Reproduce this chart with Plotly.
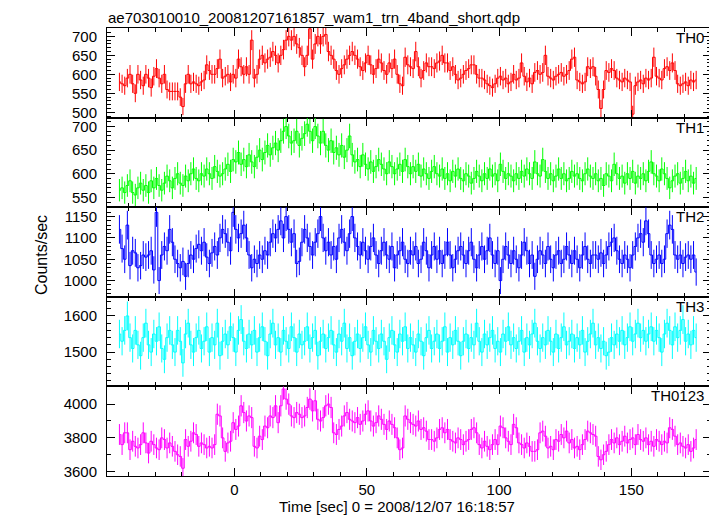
import numpy as np
import plotly.graph_objects as go

# ---- data: count rates (counts/sec) in 1-s bins, first bin centred at -43.5 s ----
TIME_START = -43.5
BIN_SEC = 1.0

TH0 = [
    580, 575, 570, 590, 600, 575, 550, 600, 585, 570,
    600, 590, 565, 595, 615, 590, 575, 600, 560, 555,
    555, 555, 555, 540, 515, 575, 600, 575, 580, 575,
    570, 580, 585, 625, 610, 600, 600, 615, 640, 590,
    595, 600, 580, 600, 590, 640, 620, 600, 620, 600,
    690, 590, 600, 640, 650, 630, 640, 645, 660, 650,
    630, 650, 665, 690, 700, 690, 700, 680, 670, 650,
    620, 650, 720, 640, 680, 700, 680, 700, 705, 660,
    650, 640, 610, 600, 615, 625, 640, 650, 660, 650,
    640, 620, 610, 630, 650, 625, 600, 615, 640, 630,
    610, 600, 630, 615, 640, 600, 575, 570, 645, 625,
    620, 615, 660, 620, 590, 610, 630, 620, 620, 615,
    630, 635, 650, 630, 630, 610, 620, 600, 585, 590,
    600, 610, 615, 625, 625, 600, 590, 590, 585, 575,
    570, 565, 575, 590, 595, 585, 590, 575, 580, 600,
    585, 590, 630, 595, 580, 590, 575, 605, 610, 600,
    605, 650, 595, 590, 585, 595, 600, 605, 595, 600,
    610, 640, 645, 585, 580, 575, 580, 620, 615, 620,
    595, 560, 510, 560, 610, 605, 615, 610, 590, 585,
    580, 590, 585, 580, 495, 570, 580, 585, 575, 590,
    585, 590, 645, 595, 590, 585, 615, 620, 610, 630,
    610, 575, 570, 575, 580, 570, 585, 580, 585,
]

TH1 = [
    565, 570, 560, 575, 585, 560, 555, 570, 580, 565,
    575, 560, 585, 570, 590, 575, 565, 580, 595, 585,
    570, 590, 600, 580, 575, 595, 585, 600, 610, 590,
    585, 600, 595, 610, 600, 590, 615, 605, 595, 600,
    610, 620, 605, 630, 625, 645, 620, 630, 615, 640,
    625, 615, 635, 650, 630, 645, 660, 640, 655, 665,
    650, 670, 690, 700, 680, 665, 670, 690, 660, 675,
    685, 705, 690, 670, 700, 680, 665, 690, 660, 650,
    670, 645, 655, 640, 660, 635, 650, 680, 640, 625,
    630, 615, 640, 620, 610, 625, 605, 615, 630, 620,
    610, 600, 625, 615, 600, 610, 620, 605, 630, 615,
    600, 615, 605, 620, 595, 610, 600, 590, 605, 615,
    600, 595, 610, 590, 600, 585, 605, 595, 610, 590,
    585, 600, 595, 580, 590, 605, 595, 585, 600, 590,
    610, 595, 600, 585, 620, 605, 590, 600, 595, 585,
    600, 590, 605, 595, 610, 600, 590, 625, 600, 595,
    630, 605, 590, 600, 585, 595, 610, 590, 600, 585,
    590, 605, 595, 600, 590, 585, 600, 610, 595, 590,
    600, 585, 590, 575, 600, 595, 585, 620, 600, 590,
    595, 580, 600, 590, 605, 580, 595, 590, 600, 585,
    605, 625, 600, 595, 585, 610, 600, 590, 570, 585,
    595, 600, 580, 590, 605, 585, 595, 580, 590,
]

TH2 = [
    1120, 1075, 1050, 1130, 1035, 1070, 1065, 1030, 1035, 1060,
    1055, 1060, 1070, 1025, 1160, 1000, 1060, 1080, 1070, 1120,
    1090, 1050, 1040, 1030, 1045, 1010, 1040, 1060, 1050, 1075,
    1085, 1070, 1090, 1055, 1040, 1065, 1080, 1060, 1100, 1120,
    1110, 1090, 1070, 1160, 1120, 1100, 1110, 1130, 1100, 1060,
    1030, 1050, 1040, 1060, 1050, 1070, 1060, 1090, 1110, 1100,
    1120, 1140, 1100, 1150, 1120, 1090, 1110, 1040, 1045, 1090,
    1120, 1100, 1080, 1060, 1090, 1110, 1150, 1100, 1070, 1090,
    1060, 1080, 1050, 1100, 1120, 1090, 1070, 1110, 1150, 1100,
    1080, 1060, 1090, 1070, 1050, 1080, 1100, 1060, 1040, 1070,
    1090, 1060, 1050, 1080, 1030, 1060, 1070, 1090, 1050, 1040,
    1070, 1060, 1080, 1040, 1050, 1090, 1070, 1030, 1060, 1080,
    1050, 1070, 1040, 1060, 1090, 1060, 1030, 1050, 1070, 1080,
    1060, 1040, 1070, 1090, 1050, 1030, 1060, 1080, 1050, 1070,
    1100, 1060, 1040, 1070, 1000, 1050, 1080, 1060, 1040, 1070,
    1050, 1030, 1060, 1090, 1070, 1040, 1060, 1010, 1050, 1070,
    1060, 1040, 1080, 1050, 1030, 1060, 1070, 1040, 1050, 1080,
    1060, 1040, 1070, 1050, 1030, 1060, 1080, 1050, 1040, 1060,
    1060, 1050, 1065, 1040, 1060, 1080, 1090, 1100, 1070, 1050,
    1040, 1060, 1050, 1030, 1060, 1080, 1100, 1110, 1090, 1140,
    1110, 1060, 1040, 1050, 1060, 1040, 1050, 1110, 1130, 1120,
    1060, 1050, 1060, 1040, 1055, 1060, 1050, 1060, 1020,
]

TH3 = [
    1550, 1530, 1560, 1600, 1540, 1510, 1560, 1520, 1490, 1540,
    1580, 1520, 1500, 1550, 1530, 1570, 1510, 1480, 1540, 1560,
    1520, 1500, 1560, 1530, 1470, 1550, 1580, 1520, 1500, 1540,
    1560, 1510, 1530, 1570, 1500, 1540, 1520, 1580, 1490, 1530,
    1550, 1520, 1570, 1540, 1500, 1560, 1590, 1530, 1510, 1550,
    1520, 1560, 1500, 1540, 1570, 1530, 1490, 1550, 1580, 1520,
    1540, 1500, 1560, 1530, 1510, 1570, 1540, 1500, 1550, 1520,
    1530, 1570, 1510, 1540, 1560, 1490, 1530, 1550, 1510, 1540,
    1560, 1520, 1500, 1550, 1530, 1580, 1510, 1540, 1490, 1530,
    1550, 1510, 1540, 1570, 1520, 1500, 1560, 1530, 1510, 1550,
    1530, 1480, 1540, 1560, 1520, 1500, 1550, 1530, 1570, 1510,
    1540, 1520, 1500, 1550, 1530, 1490, 1540, 1560, 1510, 1530,
    1550, 1510, 1530, 1570, 1500, 1540, 1520, 1560, 1530, 1490,
    1530, 1550, 1510, 1540, 1520, 1580, 1530, 1500, 1550, 1520,
    1540, 1560, 1510, 1530, 1500, 1550, 1530, 1570, 1520, 1540,
    1510, 1530, 1560, 1500, 1540, 1520, 1550, 1580, 1530, 1510,
    1540, 1520, 1560, 1530, 1500, 1550, 1510, 1540, 1570, 1520,
    1530, 1550, 1510, 1540, 1520, 1560, 1500, 1530, 1550, 1580,
    1520, 1540, 1510, 1530, 1490, 1500, 1540, 1520, 1550, 1530,
    1560, 1520, 1540, 1570, 1530, 1550, 1580, 1540, 1560, 1530,
    1550, 1570, 1530, 1560, 1540, 1500, 1550, 1580, 1560, 1520,
    1570, 1540, 1560, 1590, 1530, 1550, 1520, 1560, 1540,
]

TH0123 = [
    3820, 3760, 3830, 3830, 3730, 3780, 3750, 3740, 3760, 3830,
    3770, 3710, 3780, 3760, 3740, 3730, 3800, 3790, 3740, 3770,
    3750, 3720, 3700, 3690, 3620, 3790, 3750, 3780, 3830, 3820,
    3750, 3770, 3760, 3740, 3750, 3740, 3760, 3940, 3930, 3800,
    3720, 3770, 3780, 3890, 3850, 3870, 3990, 3950, 3900, 3930,
    3920, 3750, 3740, 3810, 3790, 3870, 3860, 3930, 3920, 3990,
    3890, 3990, 4090, 4030, 4000, 3930, 3920, 3950, 3940, 3920,
    3930, 3980, 4030, 3960, 4020, 3910, 3900, 3920, 3990, 4000,
    3980, 3830, 3820, 3850, 3870, 3930, 3950, 3910, 3900, 3890,
    3920, 3880, 3900, 3940, 3960, 3900, 3870, 3890, 3930, 3910,
    3880, 3850, 3900, 3880, 3860, 3800, 3730, 3740, 3930, 3910,
    3890, 3880, 3870, 3900, 3850, 3860, 3840, 3790, 3790, 3780,
    3800, 3850, 3860, 3830, 3850, 3790, 3780, 3770, 3800, 3790,
    3760, 3780, 3790, 3850, 3860, 3830, 3760, 3740, 3780, 3750,
    3730, 3760, 3790, 3760, 3870, 3860, 3800, 3780, 3760, 3880,
    3860, 3770, 3760, 3740, 3770, 3750, 3720, 3720, 3730, 3830,
    3840, 3810, 3740, 3750, 3730, 3790, 3780, 3820, 3800, 3840,
    3770, 3790, 3740, 3750, 3730, 3760, 3790, 3840, 3830, 3820,
    3810, 3690, 3670, 3700, 3720, 3760, 3790, 3770, 3800, 3760,
    3780, 3810, 3770, 3790, 3800, 3760, 3820, 3790, 3780, 3800,
    3760, 3780, 3750, 3790, 3780, 3760, 3780, 3770, 3860, 3850,
    3810, 3760, 3770, 3750, 3740, 3760, 3720, 3740, 3790,
]

BAND_NAMES = ["TH0", "TH1", "TH2", "TH3", "TH0123"]
BAND_RATES = [TH0, TH1, TH2, TH3, TH0123]

TITLE = "ae703010010_20081207161857_wam1_trn_4band_short.qdp"
X_TITLE = "Time [sec] 0 = 2008/12/07 16:18:57"
Y_TITLE = "Counts/sec"

# ---- style ----
COLORS = ["#ff0000", "#00ff00", "#0000ff", "#00ffff", "#ff00ff"]
Y_RANGES = [[486, 722], [529, 719], [962, 1172], [1405, 1653], [3574, 4105]]
Y_DTICK = [50, 50, 50, 100, 200]
Y_MINOR = [10, 10, 10, 20, 100]
X_RANGE = [-48.2, 180.1]
FONT = "Liberation Sans, Arial, sans-serif"

# page body has an 8px margin: figure is placed at (8, 8) in the window
OFF = 8
W, H = 709, 508
ML, MR, MT, MB = 99, 6, 20, 40
PW, PH = W - ML - MR, H - MT - MB


def px_x(px):  # window px -> paper
    return (px - OFF - ML) / PW


def px_y(py):  # window px -> paper
    return 1 - (py - OFF - MT) / PH


fig = go.Figure()
layout = {}
n = len(BAND_NAMES)
for k in range(n):
    rates = np.asarray(BAND_RATES[k], dtype=float)
    t = TIME_START + BIN_SEC * np.arange(len(rates))
    err = np.sqrt(rates * BIN_SEC) / BIN_SEC
    sfx = "" if k == 0 else str(k + 1)
    col = COLORS[k]
    fig.add_trace(go.Scatter(
        x=t, y=rates, xaxis="x" + sfx, yaxis="y" + sfx,
        mode="lines", line=dict(color=col, width=1, shape="hvh"),
        error_y=dict(type="data", array=err, color=col, thickness=1, width=0),
        showlegend=False, hoverinfo="skip",
    ))
    top = 1 - k / n
    bot = 1 - (k + 1) / n
    xa = dict(
        domain=[0, 1], range=X_RANGE, anchor="y" + sfx,
        ticks="inside", mirror="ticks", showline=True, linecolor="black", linewidth=1,
        tick0=0, dtick=50, ticklen=8, tickwidth=1, tickcolor="black",
        minor=dict(dtick=10, tick0=0, ticklen=4, ticks="inside", tickcolor="black", tickwidth=1),
        showgrid=False, zeroline=False, showticklabels=(k == n - 1),
        tickfont=dict(family=FONT, size=15, color="black"),
    )
    if k > 0:
        xa["matches"] = "x"
    ya = dict(
        domain=[bot, top], range=Y_RANGES[k], anchor="x" + sfx,
        ticks="inside", mirror="ticks", showline=True, linecolor="black", linewidth=1,
        tick0=0, dtick=Y_DTICK[k], ticklen=8, tickwidth=1, tickcolor="black",
        minor=dict(dtick=Y_MINOR[k], tick0=0, ticklen=4, ticks="inside", tickcolor="black", tickwidth=1),
        showgrid=False, zeroline=False, ticklabelstandoff=6,
        tickfont=dict(family=FONT, size=15, color="black"),
    )
    layout["xaxis" + sfx] = xa
    layout["yaxis" + sfx] = ya

annotations = []
panel_h_px = PH / n
for k, name in enumerate(BAND_NAMES):
    top_px = OFF + MT + k * panel_h_px
    annotations.append(dict(
        text=name, xref="paper", yref="paper", x=px_x(706), y=px_y(top_px + 9.5),
        xanchor="right", yanchor="middle", showarrow=False,
        font=dict(family=FONT, size=15, color="black"),
    ))
annotations.append(dict(
    text=TITLE, xref="paper", yref="paper", x=px_x(106), y=px_y(17),
    xanchor="left", yanchor="middle", showarrow=False,
    font=dict(family=FONT, size=15, color="black"),
))
annotations.append(dict(
    text=X_TITLE, xref="paper", yref="paper", x=px_x(397), y=px_y(506),
    xanchor="center", yanchor="middle", showarrow=False,
    font=dict(family=FONT, size=15, color="black"),
))
annotations.append(dict(
    text=Y_TITLE, xref="paper", yref="paper", x=px_x(41), y=px_y(255),
    xanchor="center", yanchor="middle", showarrow=False, textangle=-90,
    font=dict(family=FONT, size=16, color="black"),
))

fig.update_layout(
    width=W, height=H,
    margin=dict(l=ML, r=MR, t=MT, b=MB),
    paper_bgcolor="white", plot_bgcolor="white",
    annotations=annotations,
    **layout,
)

fig.write_html("out.html")
